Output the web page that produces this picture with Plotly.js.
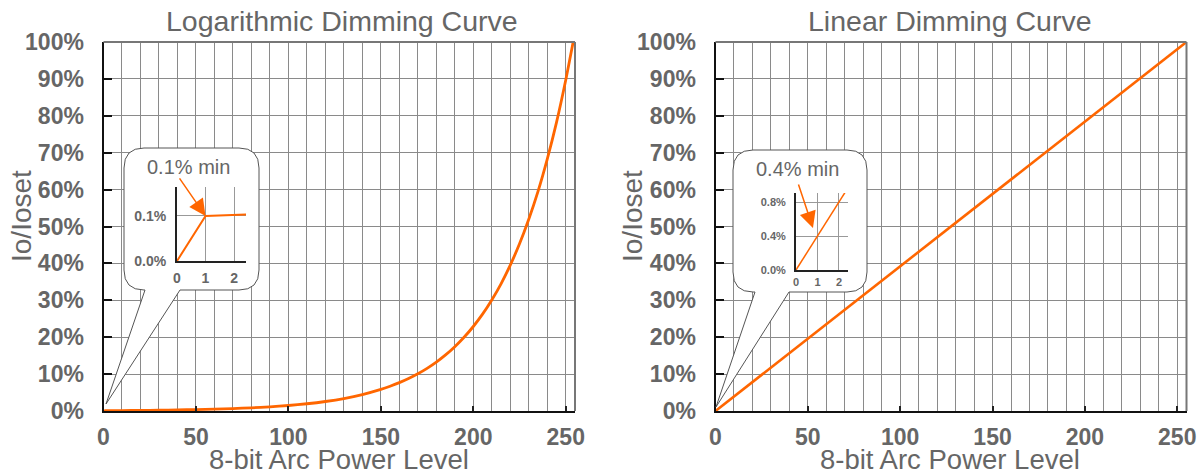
<!DOCTYPE html>
<html>
<head>
<meta charset="utf-8">
<script src="https://cdn.plot.ly/plotly-3.0.1.min.js"></script>
<style>html,body{margin:0;padding:0;background:#fff;}</style>
</head>
<body>
<div id="chart" style="width:1201px;height:473px;"></div>
<script>
// ---- data ----
const arcLevels = [0, 1, 10, 20, 30, 40, 50, 60, 70, 80, 90, 100, 110, 120, 130, 140, 150, 155, 160, 165, 170, 175, 180, 185, 190, 195, 200, 205, 210, 215, 220, 225, 230, 235, 240, 245, 250, 254];
const logCurve = [0, 0.1, 0.128, 0.168, 0.221, 0.290, 0.381, 0.501, 0.658, 0.865, 1.136, 1.492, 1.961, 2.577, 3.385, 4.448, 5.846, 6.70, 7.68, 8.80, 10.09, 11.57, 13.26, 15.20, 17.43, 19.97, 22.90, 26.24, 30.09, 34.47, 39.54, 45.31, 51.96, 59.52, 68.27, 78.22, 89.7, 100];
const linearLevels = [0, 255];
const linearCurve = [0, 100];

const insetLogLevels = [0, 1, 2.5];
const insetLogValues = [0, 0.1, 0.103];
const insetLinLevels = [0, 2.4];
const insetLinValues = [0, 0.96];

const xTickVals = [0, 50, 100, 150, 200, 250];
const xTickText = ['0', '50', '100', '150', '200', '250'];
const yTickVals = [0, 10, 20, 30, 40, 50, 60, 70, 80, 90, 100];
const yTickText = ['0%', '10%', '20%', '30%', '40%', '50%', '60%', '70%', '80%', '90%', '100%'];

const insetLogYTicks = [0, 0.1];
const insetLogYText = ['0.0%', '0.1%'];
const insetLinYTicks = [0, 0.4, 0.8];
const insetLinYText = ['0.0%', '0.4%', '0.8%'];
const insetXTicks = [0, 1, 2];
const insetXText = ['0', '1', '2'];

const chartTitles = ['Logarithmic Dimming Curve', 'Linear Dimming Curve'];
const xTitle = '8-bit Arc Power Level';
const yTitle = 'Io/Ioset';
const insetNotes = ['0.1% min', '0.4% min'];

// ---- layout helpers (pixel -> paper) ----
const W = 1201, H = 473;
const px = v => v / W;
const py = v => 1 - v / H;
const FONT = 'Liberation Sans, Arial, sans-serif';
const GREY = '#666666';
const ORANGE = '#ff6600';

function mainX(domainL, domainR) {
  return {
    domain: [px(domainL), px(domainR)],
    range: [0, 255],
    tickvals: xTickVals, ticktext: xTickText,
    ticks: 'inside', ticklen: 5, tickwidth: 2, tickcolor: '#222',
    showgrid: true, gridcolor: '#8a8a8a', gridwidth: 1,
    minor: {dtick: 10, showgrid: true, gridcolor: '#8a8a8a', gridwidth: 1, ticks: ''},
    showline: true, linecolor: '#111', linewidth: 2,
    zeroline: false,
    tickfont: {family: FONT, size: 23, color: GREY, weight: 700},
    ticklabelstandoff: 4,
    fixedrange: true
  };
}
function mainY(anchor) {
  return {
    domain: [py(411), py(42)],
    range: [0, 100],
    anchor: anchor,
    tickvals: yTickVals, ticktext: yTickText,
    ticks: 'inside', ticklen: 8, tickwidth: 2, tickcolor: '#111',
    showgrid: true, gridcolor: '#8a8a8a', gridwidth: 1,
    showline: true, linecolor: '#111', linewidth: 2,
    zeroline: false,
    tickfont: {family: FONT, size: 23, color: GREY, weight: 700},
    ticklabelstandoff: 13,
    fixedrange: true
  };
}
function insetX(l, r, anchor, fs, standoff) {
  return {
    domain: [px(l), px(r)], range: [0, 2.42], anchor: anchor,
    tickvals: insetXTicks, ticktext: insetXText, ticks: '',
    showgrid: true, gridcolor: '#999', gridwidth: 1,
    showline: true, linecolor: '#222', linewidth: 2, zeroline: false,
    tickfont: {family: FONT, size: fs, color: GREY, weight: 700},
    ticklabelstandoff: standoff, fixedrange: true
  };
}
function insetY(t, b, anchor, top, vals, text, fs) {
  return {
    domain: [py(b), py(t)], range: [0, top], anchor: anchor,
    tickvals: vals, ticktext: text, ticks: '',
    showgrid: true, gridcolor: '#999', gridwidth: 1,
    showline: true, linecolor: '#222', linewidth: 2, zeroline: false,
    tickfont: {family: FONT, size: fs, color: GREY, weight: 700},
    ticklabelstandoff: 6, fixedrange: true
  };
}

const traces = [
  {x: arcLevels, y: logCurve, xaxis: 'x', yaxis: 'y', mode: 'lines',
   line: {color: ORANGE, width: 2.8, shape: 'spline', smoothing: 0.6}, hoverinfo: 'skip', showlegend: false},
  {x: linearLevels, y: linearCurve, xaxis: 'x2', yaxis: 'y2', mode: 'lines',
   line: {color: ORANGE, width: 2.6}, hoverinfo: 'skip', showlegend: false},
  // empty canvas layer that carries the callout bubbles
  {x: [-100], y: [-100], xaxis: 'x3', yaxis: 'y3', mode: 'markers',
   marker: {opacity: 0}, hoverinfo: 'skip', showlegend: false},
  {x: insetLogLevels, y: insetLogValues, xaxis: 'x4', yaxis: 'y4', mode: 'lines',
   line: {color: ORANGE, width: 2}, hoverinfo: 'skip', showlegend: false},
  {x: insetLinLevels, y: insetLinValues, xaxis: 'x5', yaxis: 'y5', mode: 'lines',
   line: {color: ORANGE, width: 1.5}, hoverinfo: 'skip', showlegend: false}
];

const bubbleLeft = 'M145,290 L106,404 L180,290 L239,290 Q259,290 259,270 L259,168 Q259,148 239,148 L144,148 Q124,148 124,168 L124,270 Q124,290 144,290 Z';
const bubbleRight = 'M755,292 L716,407 L789,292 L847,292 Q867,292 867,272 L867,170 Q867,150 847,150 L753,150 Q733,150 733,170 L733,272 Q733,292 753,292 Z';

function frameEdges(xr, yr) {
  return [
    {type: 'line', xref: xr + ' domain', yref: yr + ' domain', x0: 0, x1: 1, y0: 1, y1: 1,
     line: {color: '#777', width: 2}, layer: 'above'},
    {type: 'line', xref: xr + ' domain', yref: yr + ' domain', x0: 1, x1: 1, y0: 0, y1: 1,
     line: {color: '#777', width: 2}, layer: 'above'}
  ];
}

function textAnn(text, x, y, size, angle) {
  return {text: text, xref: 'paper', yref: 'paper', x: px(x), y: py(y),
          xanchor: 'center', yanchor: 'middle', showarrow: false, textangle: angle || 0,
          font: {family: FONT, size: size, color: GREY}};
}

const layout = {
  width: W, height: H,
  margin: {l: 0, r: 0, t: 0, b: 0, pad: 0},
  paper_bgcolor: '#ffffff',
  plot_bgcolor: 'rgba(0,0,0,0)',
  showlegend: false,
  xaxis: mainX(103.5, 575),
  yaxis: mainY('x'),
  xaxis2: Object.assign(mainX(715.5, 1186.5), {anchor: 'y2'}),
  yaxis2: mainY('x2'),
  xaxis3: {domain: [0, 1], range: [0, W], anchor: 'y3', visible: false, fixedrange: true},
  yaxis3: {domain: [0, 1], range: [H, 0], anchor: 'x3', visible: false, fixedrange: true},
  xaxis4: insetX(177, 246, 'y4', 14, 3),
  yaxis4: insetY(187, 261, 'x4', 0.164, insetLogYTicks, insetLogYText, 14),
  xaxis5: insetX(796, 848, 'y5', 11, 1),
  yaxis5: insetY(193, 270, 'x5', 0.906, insetLinYTicks, insetLinYText, 11),
  shapes: [
    {type: 'path', xref: 'x3', yref: 'y3', path: bubbleLeft, fillcolor: '#ffffff',
     line: {color: '#555', width: 1}, layer: 'below'},
    {type: 'path', xref: 'x3', yref: 'y3', path: bubbleRight, fillcolor: '#ffffff',
     line: {color: '#555', width: 1}, layer: 'below'}
  ].concat(frameEdges('x', 'y'), frameEdges('x2', 'y2')),
  annotations: [
    textAnn(chartTitles[0], 342, 21, 28.5),
    textAnn(chartTitles[1], 950, 21, 28.5),
    textAnn(xTitle, 339, 459, 27.5),
    textAnn(xTitle, 950, 459, 27.5),
    textAnn(yTitle, 21, 216, 28, -90),
    textAnn(yTitle, 632, 216, 28, -90),
    textAnn(insetNotes[0], 189, 167, 20),
    textAnn(insetNotes[1], 797, 169, 20),
    {text: '', xref: 'x4', yref: 'y4', x: 1, y: 0.1, ax: -27, ay: -39, showarrow: true,
     arrowhead: 2, arrowsize: 2.2, arrowwidth: 1.5, arrowcolor: ORANGE, standoff: 0},
    {text: '', xref: 'x5', yref: 'y5', x: 0.79, y: 0.494, ax: -15, ay: -45, showarrow: true,
     arrowhead: 2, arrowsize: 2.2, arrowwidth: 1.5, arrowcolor: ORANGE, standoff: 0}
  ]
};

Plotly.newPlot('chart', traces, layout, {staticPlot: true, displayModeBar: false});
</script>
</body>
</html>
